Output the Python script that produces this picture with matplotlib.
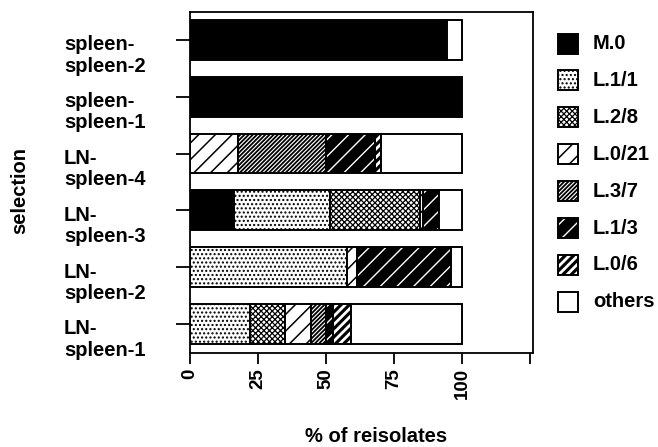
import numpy as np
import matplotlib
matplotlib.use('Agg')
import matplotlib.pyplot as plt
from matplotlib.patches import Rectangle

plt.rcParams['font.family'] = ['Liberation Sans', 'DejaVu Sans']
plt.rcParams['font.weight'] = 'bold'
plt.rcParams['hatch.linewidth'] = 1.0

# rows from bottom to top
selections = ['LN-\nspleen-1', 'LN-\nspleen-2', 'LN-\nspleen-3', 'LN-\nspleen-4',
              'spleen-\nspleen-1', 'spleen-\nspleen-2']
groups = ['M.0', 'L.1/1', 'L.2/8', 'L.0/21', 'L.3/7', 'L.1/3', 'L.0/6', 'others']

# % of reisolates per group (one value per selection row)
m0 = [0, 0, 16.2, 0, 100, 94.3]
l11 = [22.0, 57.7, 35.4, 0, 0, 0]
l28 = [12.9, 0, 32.8, 0, 0, 0]
l021 = [9.4, 3.7, 1.3, 17.8, 0, 0]
l37 = [5.5, 0, 0, 32.0, 0, 0]
l13 = [2.7, 34.5, 5.7, 18.3, 0, 0]
l06 = [6.5, 0, 0, 2.1, 0, 0]
others = [41.0, 4.1, 8.6, 29.8, 0, 5.7]
series = [m0, l11, l28, l021, l37, l13, l06, others]

xticks = [0, 25, 50, 75, 100, 125]
xticklabels = ['0', '25', '50', '75', '100', '']

# face, hatch, hatch colour, hatch width
styles = [
    ('black', None, 'black', 1.0),
    ('white', '....', 'black', 1.0),
    ('white', 'xxxxxx', 'black', 0.9),
    ('white', '//', 'black', 1.1),
    ('white', '////////', 'black', 1.3),
    ('black', '//', 'white', 1.0),
    ('black', '////', 'white', 2.0),
    ('white', None, 'black', 1.0),
]

W, H = 658, 447
fig = plt.figure(figsize=(W / 100, H / 100), dpi=100)
ax = fig.add_axes([190 / W, 1 - 353 / H, 343 / W, 341 / H])


def set_hlw(p, lw):
    if hasattr(p, 'set_hatch_linewidth'):
        p.set_hatch_linewidth(lw)


y = np.arange(len(selections))
left = np.zeros(len(selections))
for vals, (face, hatch, hcol, hlw) in zip(series, styles):
    vals = np.array(vals, dtype=float)
    m = vals > 0
    bars = ax.barh(y[m], vals[m], left=left[m], height=0.7, color=face,
                   edgecolor=hcol, linewidth=0, hatch=hatch)
    for b in bars:
        set_hlw(b, hlw)
    ax.barh(y[m], vals[m], left=left[m], height=0.7, fill=False,
            edgecolor='black', linewidth=1.4)
    left += vals

ax.set_xlim(0, 126)
ax.set_ylim(-0.51, 5.49)
ax.set_xticks(xticks)
ax.set_xticklabels(xticklabels, rotation=90, fontsize=13.5, fontweight='bold')
ax.set_yticks(y)
ax.set_yticklabels([])
ax.tick_params(axis='x', direction='out', length=8, width=1.3, pad=3)
ax.tick_params(axis='y', direction='out', length=10, width=1.3)
for s in ax.spines.values():
    s.set_linewidth(1.3)

trans = ax.get_yaxis_transform()
for yi, lab in zip(y, selections):
    ax.text(-0.367, yi + 0.08, lab, transform=trans, ha='left', va='top',
            fontsize=14.5, fontweight='bold', linespacing=1.15)

fig.text(376 / W, 1 - 437 / H, '% of reisolates', ha='center', va='center',
         fontsize=14.5, fontweight='bold')
fig.text(20 / W, 1 - 190 / H, 'selection', ha='center', va='center',
         rotation=90, fontsize=14.5, fontweight='bold')

# legend drawn by hand
for i, (g, (face, hatch, hcol, hlw)) in enumerate(zip(groups, styles)):
    cy = 43.5 + i * 36.9
    r = Rectangle((558 / W, 1 - (cy + 10) / H), 20 / W, 20 / H,
                  transform=fig.transFigure, facecolor=face, edgecolor=hcol,
                  linewidth=0, hatch=hatch)
    set_hlw(r, hlw)
    fig.add_artist(r)
    fig.add_artist(Rectangle((558 / W, 1 - (cy + 10) / H), 20 / W, 20 / H,
                             transform=fig.transFigure, fill=False,
                             edgecolor='black', linewidth=1.4))
    fig.text(593 / W, 1 - cy / H, g, ha='left', va='center',
             fontsize=14.5, fontweight='bold')

fig.savefig('out.png', dpi=100)
